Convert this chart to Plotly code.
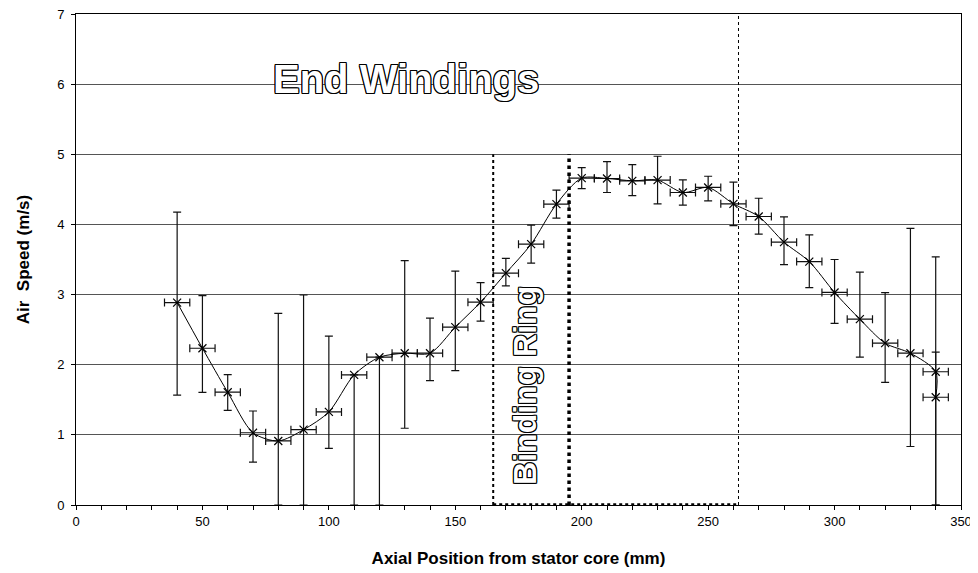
import plotly.graph_objects as go

# ---- data ----
x_pos = [40, 50, 60, 70, 80, 90, 100, 110, 120, 130, 140, 150, 160, 170, 180, 190,
         200, 210, 220, 230, 240, 250, 260, 270, 280, 290, 300, 310, 320, 330, 340, 340]
air_speed = [2.886, 2.235, 1.608, 1.03, 0.913, 1.074, 1.327, 1.855, 2.107, 2.164, 2.164, 2.535,
             2.891, 3.305, 3.719, 4.29, 4.66, 4.655, 4.622, 4.632, 4.455, 4.527, 4.294, 4.113,
             3.747, 3.47, 3.03, 2.649, 2.307, 2.164, 1.90, 1.536]
err_plus = [1.29, 0.75, 0.25, 0.31, 1.82, 1.92, 1.08, 0.0, 0.0, 1.32, 0.50, 0.80,
            0.28, 0.21, 0.27, 0.20, 0.15, 0.24, 0.23, 0.34, 0.18, 0.16, 0.31, 0.26,
            0.36, 0.38, 0.47, 0.67, 0.72, 1.78, 0.28, 2.00]
err_minus = [1.32, 0.63, 0.26, 0.42, 0.913, 1.074, 0.52, 1.855, 2.107, 1.07, 0.39, 0.62,
             0.27, 0.18, 0.27, 0.20, 0.15, 0.20, 0.21, 0.34, 0.18, 0.19, 0.31, 0.25,
             0.32, 0.37, 0.44, 0.54, 0.56, 1.33, 1.90, 1.536]
x_err = [5] * len(x_pos)

binding_ring_edges = [165, 195]
end_windings_edge = 262
region_top = 5

x_ticks = [0, 50, 100, 150, 200, 250, 300, 350]
y_ticks = [0, 1, 2, 3, 4, 5, 6, 7]

FONT = "Liberation Sans, Arial, sans-serif"
OUTLINE = ("1px 1px 0 #000, -1px -1px 0 #000, 1px -1px 0 #000, -1px 1px 0 #000, "
           "1px 0 0 #000, -1px 0 0 #000, 0 1px 0 #000, 0 -1px 0 #000")

fig = go.Figure()

fig.add_trace(go.Scatter(
    x=x_pos, y=air_speed,
    mode="lines+markers",
    line=dict(color="black", width=1, shape="spline", smoothing=0.8),
    marker=dict(symbol="x-thin-open", size=8, color="black",
                line=dict(color="black", width=1.2)),
    error_y=dict(type="data", symmetric=False, array=err_plus, arrayminus=err_minus,
                 color="#111111", thickness=1.2, width=4),
    error_x=dict(type="data", array=x_err, color="#111111", thickness=1.2, width=4),
    showlegend=False,
))

# region markers
fig.add_shape(type="line", x0=binding_ring_edges[0], x1=binding_ring_edges[0], y0=0, y1=region_top,
              line=dict(color="black", width=2, dash="dot"))
fig.add_shape(type="line", x0=binding_ring_edges[1], x1=binding_ring_edges[1], y0=0, y1=region_top,
              line=dict(color="black", width=3.5, dash="dot"))
fig.add_shape(type="line", x0=binding_ring_edges[0], x1=end_windings_edge, y0=0.01, y1=0.01,
              line=dict(color="black", width=2, dash="dot"))
fig.add_shape(type="line", x0=end_windings_edge, x1=end_windings_edge, y0=0, y1=7,
              line=dict(color="black", width=1, dash="3px,3px"))

fig.add_annotation(x=130.5, y=6.08, xref="x", yref="y", text="<b>End Windings</b>",
                   showarrow=False, yanchor="middle", xanchor="center",
                   font=dict(family=FONT, size=40, color="white", shadow=OUTLINE))
fig.add_annotation(x=177.5, y=1.71, xref="x", yref="y", text="<b>Binding Ring</b>",
                   showarrow=False, textangle=-90, xanchor="center", yanchor="middle",
                   font=dict(family=FONT, size=32, color="white", shadow=OUTLINE))

# the page body has an 8px margin, so the figure is shrunk and its left/top margins reduced by 8px
fig.update_layout(
    width=970, height=565,
    margin=dict(l=68, r=17, t=6, b=68, autoexpand=False),
    paper_bgcolor="white", plot_bgcolor="white",
    font=dict(family=FONT, size=13, color="black"),
    xaxis=dict(range=[0, 350], tickvals=x_ticks, ticks="outside", ticklen=4, tickcolor="black",
               showline=True, linecolor="black", linewidth=1, mirror=True,
               showgrid=False, zeroline=False, automargin=False, ticklabeloverflow="allow",
               minor=dict(dtick=10, ticks="outside", ticklen=4, tickcolor="black", showgrid=False),
               title=dict(text="<b>Axial Position from stator core (mm)</b>",
                          font=dict(size=17), standoff=24)),
    yaxis=dict(range=[0, 7], tickvals=y_ticks, ticks="outside", ticklen=4, tickcolor="black",
               showline=True, linecolor="black", linewidth=1, mirror=True,
               showgrid=True, gridcolor="#555555", gridwidth=1, zeroline=False, automargin=False,
               ticklabeloverflow="allow", ticklabelstandoff=4,
               title=dict(text="<b>Air  Speed (m/s)</b>", font=dict(size=17), standoff=23)),
)

fig.write_html("out.html")
